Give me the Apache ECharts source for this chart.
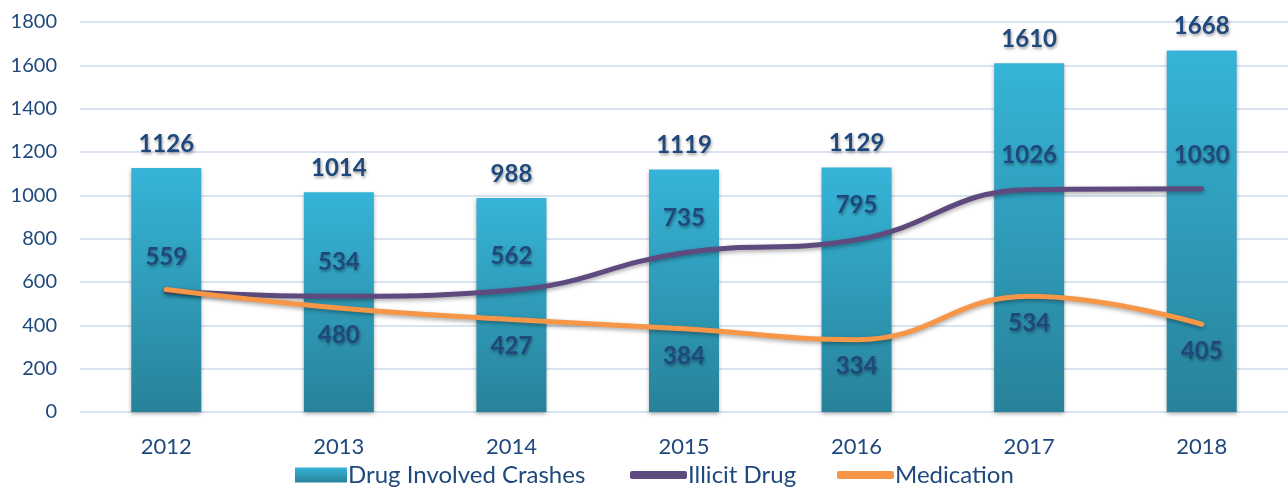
<!DOCTYPE html>
<html>
<head>
<meta charset="utf-8">
<script src="https://cdn.jsdelivr.net/npm/echarts@6/dist/echarts.min.js"></script>
<style>
  html, body { margin: 0; padding: 0; background: #fff; }
  #chart { width: 1288px; height: 489px; }
</style>
</head>
<body>
<div id="chart"></div>
<script>
// data
const years = ["2012", "2013", "2014", "2015", "2016", "2017", "2018"];
const crashes = [1126, 1014, 988, 1119, 1129, 1610, 1668];
const illicit = [559, 534, 562, 735, 795, 1026, 1030];
const medication = [565, 480, 427, 384, 334, 534, 405];
const medicationLabels = ["", "480", "427", "384", "334", "534", "405"];

const navy = "#1f497d";
const font = "Lato, 'Open Sans', sans-serif";

let myChart = echarts.init(document.getElementById("chart"));

// shared style for the bold data labels
const labelShadow = {
  color: navy,
  fontWeight: "bold",
  fontSize: 24,
  fontFamily: font,
  textShadowColor: "rgba(0,0,0,0.35)",
  textShadowBlur: 3,
  textShadowOffsetX: 1,
  textShadowOffsetY: 2,
};

// one legend per entry so each icon can have its own size
function legendItem(name, left, w, h, icon) {
  return {
    left: left,
    top: 458,
    itemWidth: w,
    itemHeight: h,
    icon: icon,
    itemGap: 0,
    textStyle: { color: navy, fontSize: 24, fontFamily: font, padding: [0, 0, 0, -4] },
    data: [name],
  };
}

myChart.setOption({
  animation: false,
  grid: {
    left: 80,
    right: 0,
    top: 22,
    bottom: 77,
  },
  legend: [
    legendItem("Drug Involved Crashes", 290, 52, 15, "rect"),
    legendItem("Illicit Drug", 625, 57, 8, "roundRect"),
    legendItem("Medication", 832, 57, 8, "roundRect"),
  ],
  xAxis: {
    type: "category",
    data: years,
    axisLine: { show: false },
    axisTick: { show: false },
    axisLabel: { color: navy, fontSize: 22, fontFamily: font, margin: 24 },
  },
  yAxis: {
    type: "value",
    min: 0,
    max: 1800,
    interval: 200,
    axisLine: { show: false },
    axisTick: { show: false },
    axisLabel: {
      color: navy,
      fontSize: 20,
      fontFamily: font,
      margin: 23,
      formatter: function (v) {
        return String(v);
      },
    },
    splitLine: { lineStyle: { color: "#d9e3f1", width: 2 } },
  },
  series: [
    {
      name: "Drug Involved Crashes",
      type: "bar",
      data: crashes,
      barWidth: 70,
      itemStyle: {
        color: new echarts.graphic.LinearGradient(0, 0, 0, 1, [
          { offset: 0, color: "#36b4d8" },
          { offset: 1, color: "#288299" },
        ]),
        shadowColor: "rgba(0,0,0,0.3)",
        shadowBlur: 4,
        shadowOffsetY: 2,
      },
      label: Object.assign({ show: true, position: "top", distance: 12 }, labelShadow),
      z: 1,
    },
    {
      name: "Illicit Drug",
      type: "line",
      data: illicit,
      smooth: 0.45,
      symbol: "circle",
      symbolSize: 0,
      showSymbol: true,
      lineStyle: {
        color: "#5e4a7e",
        width: 5,
        cap: "round",
        shadowColor: "rgba(0,0,0,0.35)",
        shadowBlur: 4,
        shadowOffsetY: 2,
      },
      itemStyle: { color: "#5e4a7e" },
      label: Object.assign({ show: true, position: "top", distance: 22 }, labelShadow),
      z: 3,
    },
    {
      name: "Medication",
      type: "line",
      data: medication,
      smooth: 0.45,
      symbol: "circle",
      symbolSize: 0,
      showSymbol: true,
      lineStyle: {
        color: "#f79646",
        width: 5,
        cap: "round",
        shadowColor: "rgba(0,0,0,0.35)",
        shadowBlur: 4,
        shadowOffsetY: 2,
      },
      itemStyle: { color: "#f79646" },
      label: Object.assign({
        show: true,
        position: "bottom",
        distance: 15,
        formatter: function (p) {
          return medicationLabels[p.dataIndex];
        },
      }, labelShadow),
      z: 4,
    },
  ],
});
</script>
</body>
</html>
